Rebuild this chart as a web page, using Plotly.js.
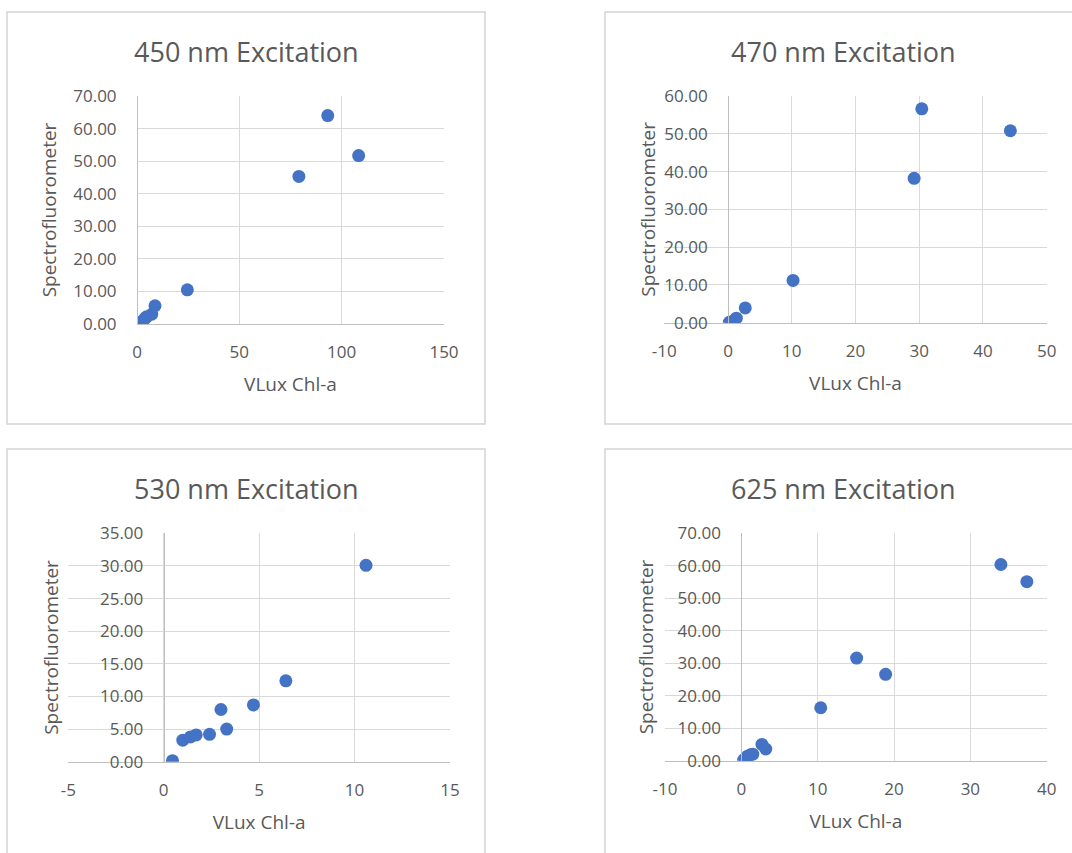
<!DOCTYPE html>
<html>
<head>
<meta charset="utf-8">
<script src="https://cdn.plot.ly/plotly-3.0.1.min.js"></script>
<style>html,body{margin:0;padding:0;background:#fff;}#chart{width:1072px;height:853px;}</style>
</head>
<body>
<div id="chart"></div>
<script>
// ---- Data ----
const titles = ["450 nm Excitation", "470 nm Excitation", "530 nm Excitation", "625 nm Excitation"];
const xTitle = "VLux Chl-a";
const yTitle = "Spectrofluorometer";

const x450 = [0.5, 1.5, 2.5, 3.9, 4.7, 7.2, 8.8, 24.6, 79.1, 93.2, 108.3];
const y450 = [0.1, 0.4, 0.8, 1.7, 2.2, 3.0, 5.6, 10.5, 45.3, 64.0, 51.7];

const x470 = [0.2, 0.5, 0.8, 1.0, 1.3, 2.7, 10.2, 29.2, 30.4, 44.3];
const y470 = [0.1, 0.2, 0.3, 0.6, 1.2, 3.9, 11.2, 38.2, 56.6, 50.8];

const x530 = [0.46, 1.0, 1.4, 1.7, 2.4, 3.0, 3.3, 4.7, 6.4, 10.6];
const y530 = [0.15, 3.3, 3.8, 4.1, 4.2, 8.0, 5.0, 8.7, 12.4, 30.1];

const x625 = [0.3, 0.5, 0.8, 1.2, 1.5, 2.7, 3.2, 10.4, 15.1, 18.9, 34.0, 37.4];
const y625 = [0.2, 0.6, 1.4, 1.8, 2.0, 5.0, 3.6, 16.3, 31.6, 26.6, 60.4, 55.1];

// tick values / labels
const xt450 = [0, 50, 100, 150];            const xl450 = ["0", "50", "100", "150"];
const yt450 = [0, 10, 20, 30, 40, 50, 60, 70];
const xt470 = [-10, 0, 10, 20, 30, 40, 50]; const xl470 = ["-10", "0", "10", "20", "30", "40", "50"];
const yt470 = [0, 10, 20, 30, 40, 50, 60];
const xt530 = [-5, 0, 5, 10, 15];           const xl530 = ["-5", "0", "5", "10", "15"];
const yt530 = [0, 5, 10, 15, 20, 25, 30, 35];
const xt625 = [-10, 0, 10, 20, 30, 40];     const xl625 = ["-10", "0", "10", "20", "30", "40"];
const yt625 = [0, 10, 20, 30, 40, 50, 60, 70];

// ---- Layout helpers ----
const W = 1072, H = 853;
const px = v => v / W;
const py = v => 1 - v / H;
const FONT = "Open Sans, Noto Sans, sans-serif";
const TXT = "#595959";
const BLUE = "#4472C4";

const panels = [
  {x: x450, y: y450, xt: xt450, xl: xl450, yt: yt450, box: [137, 96, 444, 324], title: [246, 52], frame: [7, 12, 485, 424], ystand: 10},
  {x: x470, y: y470, xt: xt470, xl: xl470, yt: yt470, box: [664.3, 96, 1046.7, 322.7], title: [843, 52], frame: [605, 12, 1080, 424], ystand: 2},
  {x: x530, y: y530, xt: xt530, xl: xl530, yt: yt530, box: [68.3, 533.3, 450, 761.7], title: [246, 488], frame: [7, 449, 485, 870], ystand: 35},
  {x: x625, y: y625, xt: xt625, xl: xl625, yt: yt625, box: [665, 533.3, 1046.7, 760.7], title: [843, 488], frame: [605, 449, 1080, 870], ystand: 17}
];

const data = [];
const layout = {
  width: W, height: H,
  margin: {l: 0, r: 0, t: 0, b: 0},
  paper_bgcolor: "#ffffff", plot_bgcolor: "rgba(0,0,0,0)",
  showlegend: false,
  font: {family: FONT, color: TXT},
  annotations: [], shapes: []
};

panels.forEach((p, i) => {
  const n = i === 0 ? "" : String(i + 1);
  const xa = "xaxis" + n, ya = "yaxis" + n;
  data.push({
    type: "scatter", mode: "markers",
    x: p.x, y: p.y,
    xaxis: "x" + n, yaxis: "y" + n,
    marker: {color: BLUE, size: 13, line: {width: 0}},
    hoverinfo: "x+y"
  });
  const [l, t, r, b] = p.box;
  const xr = [p.xt[0], p.xt[p.xt.length - 1]];
  const yr = [p.yt[0], p.yt[p.yt.length - 1]];
  const xd = [px(l), px(r)];
  const yd = [py(b), py(t)];
  // y axis line sits at x = 0 (data), expressed in paper coords
  const zeroPos = xd[0] + (0 - xr[0]) / (xr[1] - xr[0]) * (xd[1] - xd[0]);
  layout[xa] = {
    domain: xd, range: xr, anchor: "y" + n,
    tickmode: "array", tickvals: p.xt, ticktext: p.xl,
    showgrid: true, gridcolor: "#d9d9d9", gridwidth: 1,
    zeroline: false, showline: true, linecolor: "#bfbfbf", linewidth: 1,
    ticks: "", ticklabelstandoff: 13,
    tickfont: {family: FONT, size: 17, color: TXT},
    title: {text: xTitle, font: {family: FONT, size: 19, color: TXT}, standoff: 15},
    automargin: false, fixedrange: true
  };
  layout[ya] = {
    domain: yd, range: yr, anchor: "free", position: zeroPos,
    tickmode: "array", tickvals: p.yt, tickformat: ".2f",
    showgrid: true, gridcolor: "#d9d9d9", gridwidth: 1,
    zeroline: false, showline: true, linecolor: "#bfbfbf", linewidth: 1,
    ticks: "", ticklabelstandoff: 17,
    tickfont: {family: FONT, size: 17, color: TXT},
    title: {text: yTitle, font: {family: FONT, size: 19, color: TXT}, standoff: p.ystand},
    automargin: false, fixedrange: true
  };
  layout.annotations.push({
    text: titles[i], xref: "paper", yref: "paper",
    x: px(p.title[0]), y: py(p.title[1]), xanchor: "center", yanchor: "middle",
    showarrow: false, font: {family: FONT, size: 27, color: TXT}
  });
  const [fl, ft, fr, fb] = p.frame;
  layout.shapes.push({
    type: "rect", xref: "paper", yref: "paper",
    x0: px(fl), x1: px(fr), y0: py(fb), y1: py(ft),
    line: {color: "#d4d4d4", width: 1.5}, fillcolor: "rgba(0,0,0,0)", layer: "below"
  });
});

Plotly.newPlot("chart", data, layout, {staticPlot: true, displayModeBar: false});
</script>
</body>
</html>
